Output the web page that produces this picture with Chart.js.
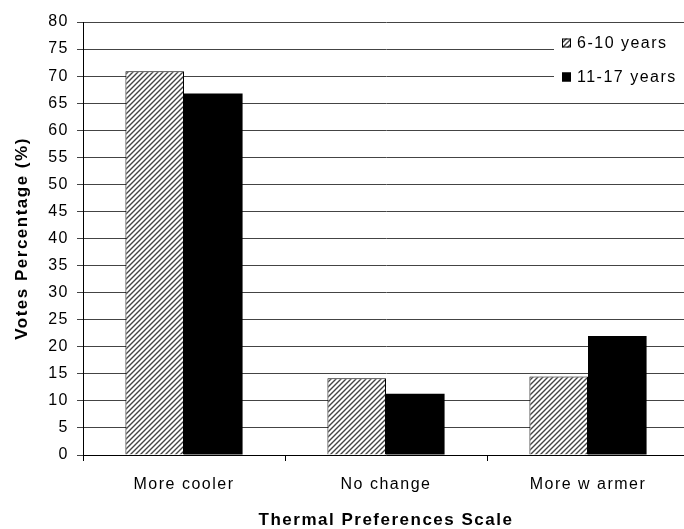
<!DOCTYPE html>
<html>
<head>
<meta charset="utf-8">
<script src="https://cdn.jsdelivr.net/npm/chart.js@4/dist/chart.umd.min.js"></script>
<style>
  html, body { margin: 0; padding: 0; background: #fff; overflow: hidden; }
  #wrap { width: 700px; height: 529px; }
</style>
</head>
<body>
<div id="wrap"><canvas id="myChart"></canvas></div>
<script>
let categories = ['More cooler', 'No change', 'More w armer'];
let seriesNames = ['6-10 years', '11-17 years'];
let young = [70.9, 14.2, 14.5];
let older = [66.8, 11.3, 22.0];
let yTicks = [0, 5, 10, 15, 20, 25, 30, 35, 40, 45, 50, 55, 60, 65, 70, 75, 80];

// hatched fill, lines going up to the right
function makeHatch() {
    let c = document.createElement('canvas');
    c.width = 5; c.height = 5;
    let g = c.getContext('2d');
    g.fillStyle = '#fff';
    g.fillRect(0, 0, 5, 5);
    g.strokeStyle = '#444';
    g.lineWidth = 1.4;
    g.beginPath();
    g.moveTo(-1, 6); g.lineTo(6, -1);
    g.moveTo(-1, 1); g.lineTo(1, -1);
    g.moveTo(4, 6); g.lineTo(6, 4);
    g.stroke();
    return g.createPattern(c, 'repeat');
}
let hatch = makeHatch();

let spacing = {
    id: 'spacing',
    beforeDraw(chart) { chart.ctx.letterSpacing = '1.5px'; }
};

// legend box sitting inside the plot, top right
let boxLegend = {
    id: 'boxLegend',
    afterDraw(chart) {
        let ctx = chart.ctx;
        ctx.save();
        ctx.fillStyle = '#fff';
        ctx.fillRect(554, 27, 150, 66);
        let rows = [
            { y: 43, fill: hatch, label: seriesNames[0] },
            { y: 77, fill: '#000', label: seriesNames[1] }
        ];
        ctx.font = '16px "Liberation Sans", Arial, sans-serif';
        ctx.textBaseline = 'middle';
        ctx.textAlign = 'left';
        rows.forEach(r => {
            ctx.fillStyle = r.fill;
            ctx.fillRect(562, r.y - 4.5, 9, 9);
            ctx.strokeStyle = '#000';
            ctx.lineWidth = 1;
            ctx.strokeRect(562.5, r.y - 4, 8, 8);
            ctx.fillStyle = '#000';
            ctx.fillText(r.label, 577, r.y + 1);
        });
        ctx.restore();
    }
};

let myChart = document.getElementById('myChart').getContext('2d');

let chart = new Chart(myChart, {
    type: 'bar',
    data: {
        labels: categories,
        datasets: [
            {
                label: seriesNames[0],
                data: young,
                backgroundColor: hatch,
                borderColor: '#000',
                borderWidth: 1,
                borderSkipped: 'bottom'
            },
            {
                label: seriesNames[1],
                data: older,
                backgroundColor: '#000',
                borderColor: '#000',
                borderWidth: 0
            }
        ]
    },
    options: {
        responsive: true,
        maintainAspectRatio: false,
        animation: false,
        layout: { padding: { left: 0, top: 22, right: 11, bottom: 0 } },
        datasets: { bar: { categoryPercentage: 0.58, barPercentage: 1 } },
        plugins: {
            legend: { display: false },
            tooltip: { enabled: false }
        },
        scales: {
            x: {
                offset: true,
                grid: {
                    offset: true,
                    drawOnChartArea: false,
                    color: '#000',
                    tickLength: 6
                },
                border: { color: '#000', width: 1 },
                ticks: {
                    color: '#000',
                    padding: 14,
                    font: { family: '"Liberation Sans", Arial, sans-serif', size: 16 }
                },
                title: {
                    display: true,
                    text: 'Thermal Preferences Scale',
                    color: '#000',
                    padding: { top: 0, bottom: 0 },
                    font: { family: '"Liberation Sans", Arial, sans-serif', size: 17, weight: 'bold', lineHeight: 1 }
                },
                afterFit(scale) { scale.height = 74; }
            },
            y: {
                min: 0,
                max: 80,
                afterBuildTicks(scale) { scale.ticks = yTicks.map(v => ({ value: v })); },
                grid: {
                    color: '#444',
                    tickLength: 6
                },
                border: { color: '#000', width: 1 },
                ticks: {
                    color: '#000',
                    padding: 8,
                    font: { family: '"Liberation Sans", Arial, sans-serif', size: 16 }
                },
                title: {
                    display: true,
                    text: 'Votes Percentage (%)',
                    color: '#000',
                    padding: { top: 12, bottom: 0 },
                    font: { family: '"Liberation Sans", Arial, sans-serif', size: 17, weight: 'bold', lineHeight: 1.2 }
                },
                afterFit(scale) { scale.width = 83; }
            }
        }
    },
    plugins: [spacing, boxLegend]
});
</script>
</body>
</html>
